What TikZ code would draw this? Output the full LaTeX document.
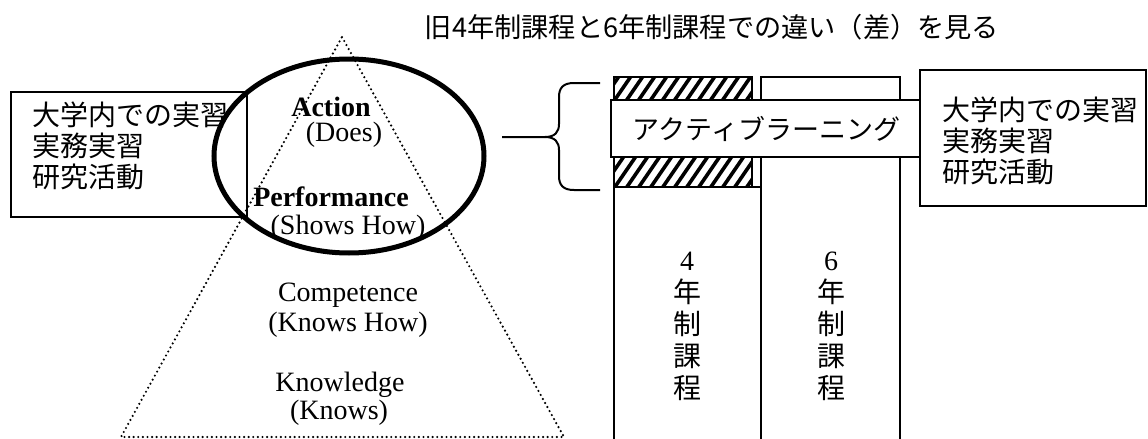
\documentclass[tikz,border=0pt]{standalone}
\usepackage{fontspec}
\usetikzlibrary{shapes.geometric}
\setmainfont{Liberation Serif}
\newfontfamily\cjk{Noto Sans CJK JP}
\begin{document}
\begin{tikzpicture}[x=0.5pt,y=-0.5pt,
  plainbox/.style={draw, line width=0.7pt, inner sep=0pt},
  jtext/.style={font=\cjk\fontsize{14}{15.5}\selectfont, inner sep=0pt, align=left},
  vtext/.style={font=\fontsize{14}{16}\selectfont, inner sep=0pt, align=center},
  pyr/.style={font=\fontsize{14}{16}\selectfont, inner sep=0pt},
  pyrb/.style={font=\bfseries\fontsize{14}{16}\selectfont, inner sep=0pt},
  dotline/.style={line width=1.2pt, dash pattern=on 0pt off 2.3pt, line cap=round},
  ring/.style={line width=2.5pt},
  barline/.style={line width=1.4pt},
  hatchline/.style={line width=1.8pt},
  bracket/.style={line width=1pt}]
\useasboundingbox (0,0) rectangle (1148,439);
% title
\node[font=\cjk\fontsize{13.6}{16}\selectfont, inner sep=0pt] (title) at (712,27) {旧4年制課程と6年制課程での違い（差）を見る};
% left box
\node[plainbox, minimum width=118pt, minimum height=62.5pt] (lbox) at (129,154.5) {};
\node[jtext, anchor=west] (ltext) at (32,146) {大学内での実習\\実務実習\\研究活動};
% pyramid
\coordinate (apex) at (342,37);
\coordinate (bl) at (121,437);
\coordinate (br) at (564,437);
\draw[dotline] (apex) -- (br) -- (bl) -- cycle;
\node[draw, ring, ellipse, minimum width=135pt, minimum height=97pt, inner sep=0pt] (ring) at (349,156) {};
\node[pyrb] (action) at (331,107) {Action};
\node[pyr] (does) at (344,135) {(Does)};
\node[pyrb] (perf) at (331,197) {Performance};
\node[pyr] (shows) at (348,228) {(Shows How)};
\node[pyr] (comp) at (348,295) {Competence};
\node[pyr] (knowshow) at (348,325) {(Knows How)};
\node[pyr] (know) at (340,385) {Knowledge};
\node[pyr] (knows) at (339,413) {(Knows)};
% brace
\draw[bracket] (600,83) -- (574,83) .. controls (563,83) and (559,88) .. (559,97) -- (559,124) .. controls (559,132) and (555,137) .. (545,137) -- (502,137);
\draw[bracket] (600,190) -- (574,190) .. controls (563,190) and (559,185) .. (559,176) -- (559,150) .. controls (559,142) and (555,137) .. (545,137);
% bars
\begin{scope}
\clip (614,77) rectangle (752,187);
\foreach \x in {500,512,...,770} \draw[hatchline] (\x,197) -- ++(88,-128);
\end{scope}
\node[draw, barline, minimum width=69pt, minimum height=55pt, inner sep=0pt] (hatch) at (683,132) {};
\draw[barline] (614,445) -- (614,187) -- (761,187) -- (761,445);
\draw[barline] (761,187) -- (761,77) -- (900,77) -- (900,445);
\node[vtext] (four) at (687,326) {4\\{\cjk 年}\\{\cjk 制}\\{\cjk 課}\\{\cjk 程}};
\node[vtext] (six) at (831,326) {6\\{\cjk 年}\\{\cjk 制}\\{\cjk 課}\\{\cjk 程}};
% active learning box
\node[plainbox, fill=white, minimum width=155.5pt, minimum height=28.5pt, font=\cjk\fontsize{13.5}{16}\selectfont] (active) at (766.5,128.5) {アクティブラーニング};
% right box
\node[plainbox, fill=white, minimum width=113pt, minimum height=68pt] (rbox) at (1033,138) {};
\node[jtext, anchor=west] (rtext) at (942,141) {大学内での実習\\実務実習\\研究活動};
\end{tikzpicture}
\end{document}
